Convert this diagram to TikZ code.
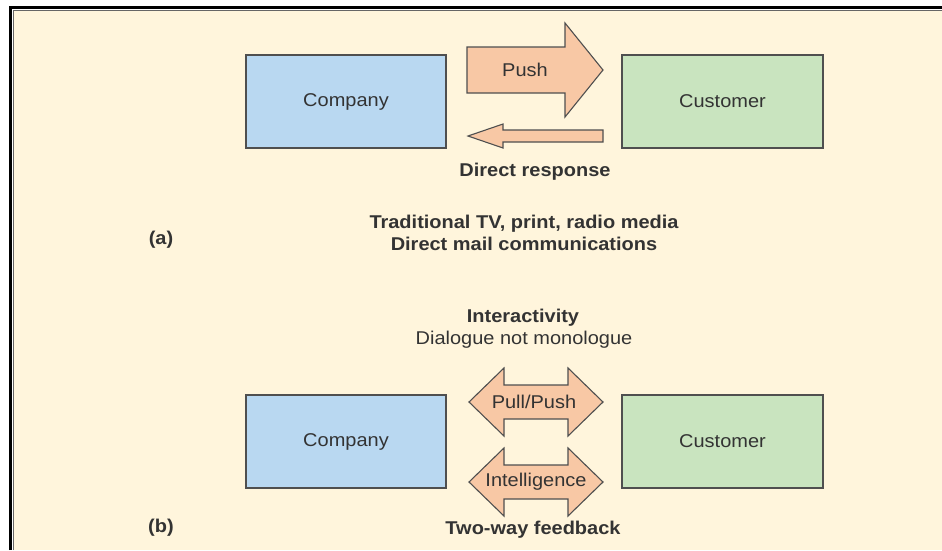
\documentclass[tikz,border=0pt]{standalone}
\usepackage{fontspec}
\setmainfont{Liberation Sans}[FakeStretch=1.08]
\definecolor{cream}{HTML}{FFF5DC}
\definecolor{compblue}{HTML}{B9D8F1}
\definecolor{custgreen}{HTML}{C9E4BF}
\definecolor{peach}{HTML}{F8C8A5}
\definecolor{ink}{HTML}{333333}
\definecolor{edge}{HTML}{4F4F4F}
\tikzset{
  box/.style={draw=edge, line width=1.5pt},
  arrowshape/.style={draw=edge, fill=peach, line width=1.1pt, line join=miter},
  lbl/.style={font=\fontsize{18.5}{22}\selectfont, text=ink, inner sep=0pt},
  blbl/.style={font=\fontsize{18.5}{22}\selectfont\bfseries, text=ink, inner sep=0pt, align=center},
}
\begin{document}
\begin{tikzpicture}[x=1pt,y=-1pt]
\useasboundingbox (0,0) rectangle (942,550);
\fill[white] (0,0) rectangle (942,550);
\fill[cream] (14,11) rectangle (942,550);
\draw[black, line width=3pt] (10.5,550) -- (10.5,7) -- (942,7);
\draw[black!60, line width=1.2pt] (13.5,550) -- (13.5,10.2) -- (942,10.2);

% (a)
\draw[box, fill=compblue] (246,55) rectangle (446,148);
\draw[box, fill=custgreen] (622,55) rectangle (823,148);
\node[lbl] (compa) at (346,101.5) {Company};
\node[lbl] (custa) at (722.5,101.5) {Customer};
\draw[arrowshape] (467,47) -- (565,47) -- (565,23) -- (603,70) -- (565,117) -- (565,93) -- (467,93) -- cycle;
\node[lbl] (push) at (525,70) {Push};
\draw[arrowshape] (603,130) -- (503,130) -- (503,124) -- (468,136) -- (503,148) -- (503,142) -- (603,142) -- cycle;
\node[blbl] (dr) at (535,172) {Direct response};
\node[blbl] (trad) at (524,233) {Traditional TV, print, radio media\\[0pt]Direct mail communications};
\node[blbl] (a) at (161,240) {(a)};

% (b)
\node[blbl] (inter) at (523,318) {Interactivity};
\node[lbl] (dial) at (524,340) {Dialogue not monologue};
\draw[box, fill=compblue] (246,395) rectangle (446,488);
\draw[box, fill=custgreen] (622,395) rectangle (823,488);
\node[lbl] (compb) at (346,441.5) {Company};
\node[lbl] (custb) at (722.5,441.5) {Customer};
\draw[arrowshape] (469,402) -- (504,368) -- (504,385) -- (568,385) -- (568,368) -- (603,402) -- (568,436) -- (568,419) -- (504,419) -- (504,436) -- cycle;
\node[lbl] (pp) at (534,402) {Pull/Push};
\draw[arrowshape] (469,482) -- (504,448) -- (504,465) -- (568,465) -- (568,448) -- (603,482) -- (568,516) -- (568,499) -- (504,499) -- (504,516) -- cycle;
\node[lbl] (intel) at (536,482) {Intelligence};
\node[blbl] (two) at (533,530) {Two-way feedback};
\node[blbl] (b) at (161,528) {(b)};
\end{tikzpicture}
\end{document}
